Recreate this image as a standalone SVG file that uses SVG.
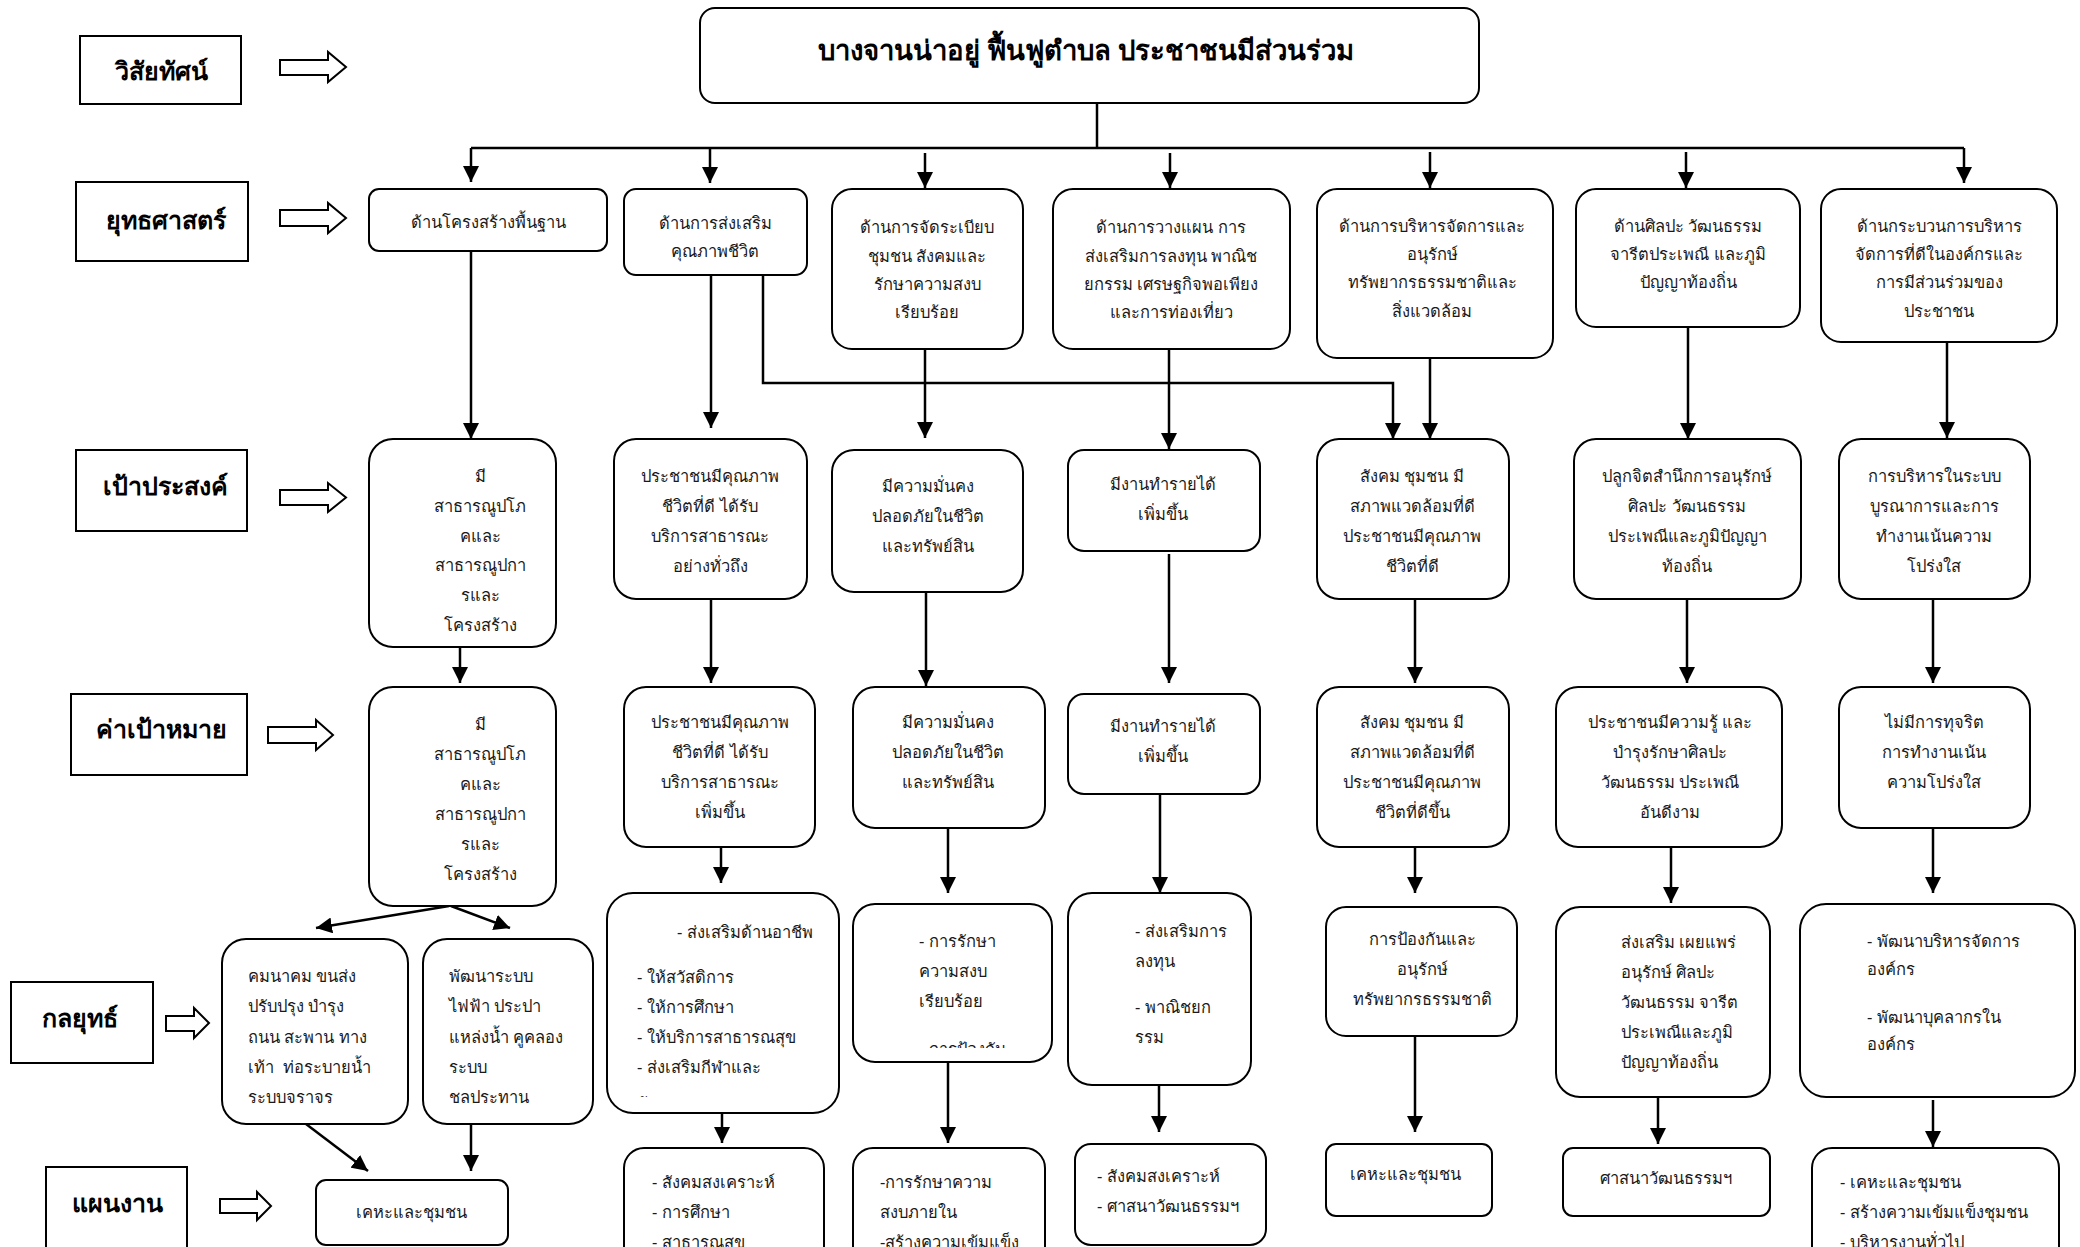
<svg xmlns="http://www.w3.org/2000/svg" width="2080" height="1247" viewBox="0 0 2080 1247">
<style>
.box{fill:#fff;stroke:#000;stroke-width:2}
.lbl{fill:#fff;stroke:#000;stroke-width:2}
.ha{fill:#fff;stroke:#000;stroke-width:2;stroke-linejoin:miter}
.c{fill:none;stroke:#000;stroke-width:2.5}
text{font-family:"Noto Sans","DejaVu Sans",sans-serif;font-size:16.5px;fill:#1a1a1a}
.m{text-anchor:middle}
.s{text-anchor:start}
.pre{white-space:pre}
.h{font-size:25px;font-weight:bold;fill:#000;text-anchor:middle}
.ti{font-size:27.5px;font-weight:bold;fill:#000;text-anchor:middle}
</style>
<defs>
<marker id="ah" markerUnits="userSpaceOnUse" markerWidth="16" markerHeight="16" viewBox="0 0 16 16" refX="16" refY="8" orient="auto">
<path d="M0,0 L16,8 L0,16 Z" fill="#000"/>
</marker>
<clipPath id="clC1"><rect x="369" y="687" width="187" height="204"/></clipPath>
<clipPath id="clD2"><rect x="607" y="893" width="232" height="204"/></clipPath>
<clipPath id="clD3"><rect x="853" y="904" width="199" height="144"/></clipPath>
</defs>

<!-- left labels -->
<g id="lbl-vision"><rect class="lbl" x="80" y="36" width="161" height="68"/><text class="h" x="161" y="80">วิสัยทัศน์</text></g>
<g id="lbl-strategy"><rect class="lbl" x="76" y="182" width="172" height="79"/><text class="h" x="166" y="229">ยุทธศาสตร์</text></g>
<g id="lbl-goal"><rect class="lbl" x="76" y="450" width="171" height="81"/><text class="h" x="165" y="495">เป้าประสงค์</text></g>
<g id="lbl-target"><rect class="lbl" x="71" y="694" width="176" height="81"/><text class="h" x="161" y="738">ค่าเป้าหมาย</text></g>
<g id="lbl-tactic"><rect class="lbl" x="11" y="982" width="142" height="81"/><text class="h" x="80" y="1027">กลยุทธ์</text></g>
<g id="lbl-plan"><rect class="lbl" x="46" y="1167" width="141" height="95"/><text class="h" x="117" y="1212">แผนงาน</text></g>

<!-- hollow arrows -->
<g id="hollow-arrows">
<path class="ha" d="M280,60 H328 V52 L346,67 L328,82 V75 H280 Z"/>
<path class="ha" d="M280,210 H328 V203 L346,218 L328,233 V226 H280 Z"/>
<path class="ha" d="M280,490 H328 V483 L346,497.5 L328,512 V505 H280 Z"/>
<path class="ha" d="M268,727 H316 V720 L333,735 L316,750 V743 H268 Z"/>
<path class="ha" d="M166,1016 H194 V1008 L209,1023 L194,1038 V1031 H166 Z"/>
<path class="ha" d="M220,1199 H257 V1192 L271,1206 L257,1220 V1213 H220 Z"/>
</g>

<!-- connectors -->
<g id="connectors">
<path class="c" d="M1097,103 V148"/>
<path class="c" d="M471,148 H1964"/>
<path class="c" d="M471,148 V182" marker-end="url(#ah)"/>
<path class="c" d="M710,148 V183" marker-end="url(#ah)"/>
<path class="c" d="M925,153 V188" marker-end="url(#ah)"/>
<path class="c" d="M1170,153 V188" marker-end="url(#ah)"/>
<path class="c" d="M1430,152 V188" marker-end="url(#ah)"/>
<path class="c" d="M1686,152 V188" marker-end="url(#ah)"/>
<path class="c" d="M1964,148 V183" marker-end="url(#ah)"/>

<path class="c" d="M471,251 V439" marker-end="url(#ah)"/>
<path class="c" d="M711,275 V428" marker-end="url(#ah)"/>
<path class="c" d="M763,275 V383 H1393 V439" marker-end="url(#ah)"/>
<path class="c" d="M925,349 V438" marker-end="url(#ah)"/>
<path class="c" d="M1169,349 V449" marker-end="url(#ah)"/>
<path class="c" d="M1430,358 V439" marker-end="url(#ah)"/>
<path class="c" d="M1688,327 V439" marker-end="url(#ah)"/>
<path class="c" d="M1947,342 V438" marker-end="url(#ah)"/>

<path class="c" d="M460,647 V683" marker-end="url(#ah)"/>
<path class="c" d="M711,599 V683" marker-end="url(#ah)"/>
<path class="c" d="M926,592 V686" marker-end="url(#ah)"/>
<path class="c" d="M1169,554 V683" marker-end="url(#ah)"/>
<path class="c" d="M1415,599 V683" marker-end="url(#ah)"/>
<path class="c" d="M1687,599 V683" marker-end="url(#ah)"/>
<path class="c" d="M1933,599 V683" marker-end="url(#ah)"/>

<path class="c" d="M449,906 L316,928" marker-end="url(#ah)"/>
<path class="c" d="M451,906 L510,928" marker-end="url(#ah)"/>
<path class="c" d="M721,847 V883" marker-end="url(#ah)"/>
<path class="c" d="M948,828 V893" marker-end="url(#ah)"/>
<path class="c" d="M1160,794 V893" marker-end="url(#ah)"/>
<path class="c" d="M1415,847 V893" marker-end="url(#ah)"/>
<path class="c" d="M1671,847 V903" marker-end="url(#ah)"/>
<path class="c" d="M1933,828 V893" marker-end="url(#ah)"/>

<path class="c" d="M306,1124 L368,1171" marker-end="url(#ah)"/>
<path class="c" d="M471,1124 V1171" marker-end="url(#ah)"/>
<path class="c" d="M722,1113 V1143" marker-end="url(#ah)"/>
<path class="c" d="M948,1062 V1143" marker-end="url(#ah)"/>
<path class="c" d="M1159,1085 V1132" marker-end="url(#ah)"/>
<path class="c" d="M1415,1036 V1132" marker-end="url(#ah)"/>
<path class="c" d="M1658,1097 V1144" marker-end="url(#ah)"/>
<path class="c" d="M1933,1100 V1147" marker-end="url(#ah)"/>
</g>

<!-- vision -->
<g id="vision"><rect class="box" x="700" y="8" width="779" height="95" rx="15"/><text class="ti" x="1086" y="60">บางจานน่าอยู่ ฟื้นฟูตำบล ประชาชนมีส่วนร่วม</text></g>

<!-- Row A strategies -->
<g id="sA1"><rect class="box" x="369" y="189" width="238" height="62" rx="10"/><text class="m" x="488" y="228">ด้านโครงสร้างพื้นฐาน</text></g>
<g id="sA2"><rect class="box" x="624" y="189" width="183" height="86" rx="12"/><text class="m" x="715" y="229">ด้านการส่งเสริม</text><text class="m" x="715" y="257">คุณภาพชีวิต</text></g>
<g id="sA3"><rect class="box" x="832" y="189" width="191" height="160" rx="20"/><text class="m" x="927" y="233">ด้านการจัดระเบียบ</text><text class="m" x="927" y="262">ชุมชน สังคมและ</text><text class="m" x="927" y="290">รักษาความสงบ</text><text class="m" x="927" y="318">เรียบร้อย</text></g>
<g id="sA4"><rect class="box" x="1053" y="189" width="237" height="160" rx="20"/><text class="m" x="1171" y="233">ด้านการวางแผน การ</text><text class="m" x="1171" y="262">ส่งเสริมการลงทุน พาณิช</text><text class="m" x="1171" y="290">ยกรรม เศรษฐกิจพอเพียง</text><text class="m" x="1171" y="318">และการท่องเที่ยว</text></g>
<g id="sA5"><rect class="box" x="1317" y="189" width="236" height="169" rx="20"/><text class="m" x="1432" y="232">ด้านการบริหารจัดการและ</text><text class="m" x="1432" y="260">อนุรักษ์</text><text class="m" x="1432" y="288">ทรัพยากรธรรมชาติและ</text><text class="m" x="1432" y="317">สิ่งแวดล้อม</text></g>
<g id="sA6"><rect class="box" x="1576" y="189" width="224" height="138" rx="20"/><text class="m" x="1688" y="232">ด้านศิลปะ วัฒนธรรม</text><text class="m" x="1688" y="260">จารีตประเพณี และภูมิ</text><text class="m" x="1688" y="288">ปัญญาท้องถิ่น</text></g>
<g id="sA7"><rect class="box" x="1821" y="189" width="236" height="153" rx="20"/><text class="m" x="1939" y="232">ด้านกระบวนการบริหาร</text><text class="m" x="1939" y="260">จัดการที่ดีในองค์กรและ</text><text class="m" x="1939" y="288">การมีส่วนร่วมของ</text><text class="m" x="1939" y="317">ประชาชน</text></g>

<!-- Row B goals -->
<g id="gB1"><rect class="box" x="369" y="439" width="187" height="208" rx="24"/><text class="m" x="480" y="482">มี</text><text class="m" x="480" y="512">สาธารณูปโภ</text><text class="m" x="480" y="542">คและ</text><text class="m" x="480" y="571">สาธารณูปกา</text><text class="m" x="480" y="601">รและ</text><text class="m" x="480" y="631">โครงสร้าง</text></g>
<g id="gB2"><rect class="box" x="614" y="439" width="193" height="160" rx="22"/><text class="m" x="710" y="482">ประชาชนมีคุณภาพ</text><text class="m" x="710" y="512">ชีวิตที่ดี ได้รับ</text><text class="m" x="710" y="542">บริการสาธารณะ</text><text class="m" x="710" y="572">อย่างทั่วถึง</text></g>
<g id="gB3"><rect class="box" x="832" y="450" width="191" height="142" rx="22"/><text class="m" x="928" y="492">มีความมั่นคง</text><text class="m" x="928" y="522">ปลอดภัยในชีวิต</text><text class="m" x="928" y="552">และทรัพย์สิน</text></g>
<g id="gB4"><rect class="box" x="1068" y="450" width="192" height="101" rx="16"/><text class="m" x="1163" y="490">มีงานทำรายได้</text><text class="m" x="1163" y="520">เพิ่มขึ้น</text></g>
<g id="gB5"><rect class="box" x="1317" y="439" width="192" height="160" rx="22"/><text class="m" x="1412" y="482">สังคม ชุมชน มี</text><text class="m" x="1412" y="512">สภาพแวดล้อมที่ดี</text><text class="m" x="1412" y="542">ประชาชนมีคุณภาพ</text><text class="m" x="1412" y="572">ชีวิตที่ดี</text></g>
<g id="gB6"><rect class="box" x="1574" y="439" width="227" height="160" rx="22"/><text class="m" x="1687" y="482">ปลูกจิตสำนึกการอนุรักษ์</text><text class="m" x="1687" y="512">ศิลปะ วัฒนธรรม</text><text class="m" x="1687" y="542">ประเพณีและภูมิปัญญา</text><text class="m" x="1687" y="572">ท้องถิ่น</text></g>
<g id="gB7"><rect class="box" x="1839" y="439" width="191" height="160" rx="22"/><text class="m" x="1934" y="482">การบริหารในระบบ</text><text class="m" x="1934" y="512">บูรณาการและการ</text><text class="m" x="1934" y="542">ทำงานเน้นความ</text><text class="m" x="1934" y="572">โปร่งใส</text></g>

<!-- Row C targets -->
<g id="tC1"><rect class="box" x="369" y="687" width="187" height="219" rx="24"/><g clip-path="url(#clC1)"><text class="m" x="480" y="730">มี</text><text class="m" x="480" y="760">สาธารณูปโภ</text><text class="m" x="480" y="790">คและ</text><text class="m" x="480" y="820">สาธารณูปกา</text><text class="m" x="480" y="850">รและ</text><text class="m" x="480" y="880">โครงสร้าง</text><text class="m" x="480" y="910">พื้นฐาน</text></g></g>
<g id="tC2"><rect class="box" x="624" y="687" width="191" height="160" rx="22"/><text class="m" x="720" y="728">ประชาชนมีคุณภาพ</text><text class="m" x="720" y="758">ชีวิตที่ดี ได้รับ</text><text class="m" x="720" y="788">บริการสาธารณะ</text><text class="m" x="720" y="818">เพิ่มขึ้น</text></g>
<g id="tC3"><rect class="box" x="853" y="687" width="192" height="141" rx="22"/><text class="m" x="948" y="728">มีความมั่นคง</text><text class="m" x="948" y="758">ปลอดภัยในชีวิต</text><text class="m" x="948" y="788">และทรัพย์สิน</text></g>
<g id="tC4"><rect class="box" x="1068" y="694" width="192" height="100" rx="16"/><text class="m" x="1163" y="732">มีงานทำรายได้</text><text class="m" x="1163" y="762">เพิ่มขึ้น</text></g>
<g id="tC5"><rect class="box" x="1317" y="687" width="192" height="160" rx="22"/><text class="m" x="1412" y="728">สังคม ชุมชน มี</text><text class="m" x="1412" y="758">สภาพแวดล้อมที่ดี</text><text class="m" x="1412" y="788">ประชาชนมีคุณภาพ</text><text class="m" x="1412" y="818">ชีวิตที่ดีขึ้น</text></g>
<g id="tC6"><rect class="box" x="1556" y="687" width="226" height="160" rx="22"/><text class="m" x="1670" y="728">ประชาชนมีความรู้ และ</text><text class="m" x="1670" y="758">บำรุงรักษาศิลปะ</text><text class="m" x="1670" y="788">วัฒนธรรม ประเพณี</text><text class="m" x="1670" y="818">อันดีงาม</text></g>
<g id="tC7"><rect class="box" x="1839" y="687" width="191" height="141" rx="22"/><text class="m" x="1934" y="728">ไม่มีการทุจริต</text><text class="m" x="1934" y="758">การทำงานเน้น</text><text class="m" x="1934" y="788">ความโปร่งใส</text></g>

<!-- Row D tactics -->
<g id="kD1a"><rect class="box" x="222" y="939" width="186" height="185" rx="24"/><text class="s" x="248" y="982">คมนาคม ขนส่ง</text><text class="s" x="248" y="1012">ปรับปรุง บำรุง</text><text class="s" x="248" y="1043">ถนน สะพาน ทาง</text><text class="s pre" x="248" y="1073">เท้า  ท่อระบายน้ำ</text><text class="s" x="248" y="1103">ระบบจราจร</text></g>
<g id="kD1b"><rect class="box" x="423" y="939" width="170" height="185" rx="24"/><text class="s" x="449" y="982">พัฒนาระบบ</text><text class="s" x="449" y="1012">ไฟฟ้า ประปา</text><text class="s" x="449" y="1043">แหล่งน้ำ คูคลอง</text><text class="s" x="449" y="1073">ระบบ</text><text class="s" x="449" y="1103">ชลประทาน</text></g>
<g id="kD2"><rect class="box" x="607" y="893" width="232" height="220" rx="26"/><g clip-path="url(#clD2)"><text class="s" x="677" y="938">- ส่งเสริมด้านอาชีพ</text><text class="s" x="637" y="983">- ให้สวัสดิการ</text><text class="s" x="637" y="1013">- ให้การศึกษา</text><text class="s" x="637" y="1043">- ให้บริการสาธารณสุข</text><text class="s" x="637" y="1073">- ส่งเสริมกีฬาและ</text><text class="s" x="637" y="1109">นันทนาการ</text></g></g>
<g id="kD3"><rect class="box" x="853" y="904" width="199" height="158" rx="22"/><g clip-path="url(#clD3)"><text class="s" x="919" y="947">- การรักษา</text><text class="s" x="919" y="977">ความสงบ</text><text class="s" x="919" y="1007">เรียบร้อย</text><text class="s" x="919" y="1055">- การป้องกัน</text></g></g>
<g id="kD4"><rect class="box" x="1068" y="893" width="183" height="192" rx="24"/><text class="s" x="1135" y="937">- ส่งเสริมการ</text><text class="s" x="1135" y="967">ลงทุน</text><text class="s" x="1135" y="1013">- พาณิชยก</text><text class="s" x="1135" y="1043">รรม</text></g>
<g id="kD5"><rect class="box" x="1326" y="907" width="191" height="129" rx="20"/><text class="m" x="1422" y="945">การป้องกันและ</text><text class="m" x="1422" y="975">อนุรักษ์</text><text class="m" x="1422" y="1005">ทรัพยากรธรรมชาติ</text></g>
<g id="kD6"><rect class="box" x="1556" y="907" width="214" height="190" rx="24"/><text class="s" x="1621" y="948">ส่งเสริม เผยแพร่</text><text class="s" x="1621" y="978">อนุรักษ์ ศิลปะ</text><text class="s" x="1621" y="1008">วัฒนธรรม จารีต</text><text class="s" x="1621" y="1038">ประเพณีและภูมิ</text><text class="s" x="1621" y="1068">ปัญญาท้องถิ่น</text></g>
<g id="kD7"><rect class="box" x="1800" y="904" width="275" height="193" rx="26"/><text class="s" x="1867" y="947">- พัฒนาบริหารจัดการ</text><text class="s" x="1867" y="975">องค์กร</text><text class="s" x="1867" y="1023">- พัฒนาบุคลากรใน</text><text class="s" x="1867" y="1050">องค์กร</text></g>

<!-- Row E plans -->
<g id="pE1"><rect class="box" x="316" y="1180" width="192" height="65" rx="10"/><text class="m" x="411" y="1218">เคหะและชุมชน</text></g>
<g id="pE2"><rect class="box" x="624" y="1148" width="200" height="130" rx="20"/><text class="s" x="652" y="1188">- สังคมสงเคราะห์</text><text class="s" x="652" y="1218">- การศึกษา</text><text class="s" x="652" y="1248">- สาธารณสุข</text></g>
<g id="pE3"><rect class="box" x="853" y="1148" width="192" height="130" rx="20"/><text class="s" x="880" y="1188">-การรักษาความ</text><text class="s" x="880" y="1218">สงบภายใน</text><text class="s" x="880" y="1248">-สร้างความเข้มแข็ง</text></g>
<g id="pE4"><rect class="box" x="1075" y="1144" width="191" height="101" rx="16"/><text class="s" x="1097" y="1182">- สังคมสงเคราะห์</text><text class="s" x="1097" y="1212">- ศาสนาวัฒนธรรมฯ</text></g>
<g id="pE5"><rect class="box" x="1326" y="1144" width="166" height="72" rx="10"/><text class="s" x="1350" y="1180">เคหะและชุมชน</text></g>
<g id="pE6"><rect class="box" x="1563" y="1148" width="207" height="68" rx="10"/><text class="m" x="1666" y="1184">ศาสนาวัฒนธรรมฯ</text></g>
<g id="pE7"><rect class="box" x="1812" y="1148" width="247" height="130" rx="20"/><text class="s" x="1840" y="1188">- เคหะและชุมชน</text><text class="s" x="1840" y="1218">- สร้างความเข้มแข็งชุมชน</text><text class="s" x="1840" y="1248">- บริหารงานทั่วไป</text></g>
</svg>
